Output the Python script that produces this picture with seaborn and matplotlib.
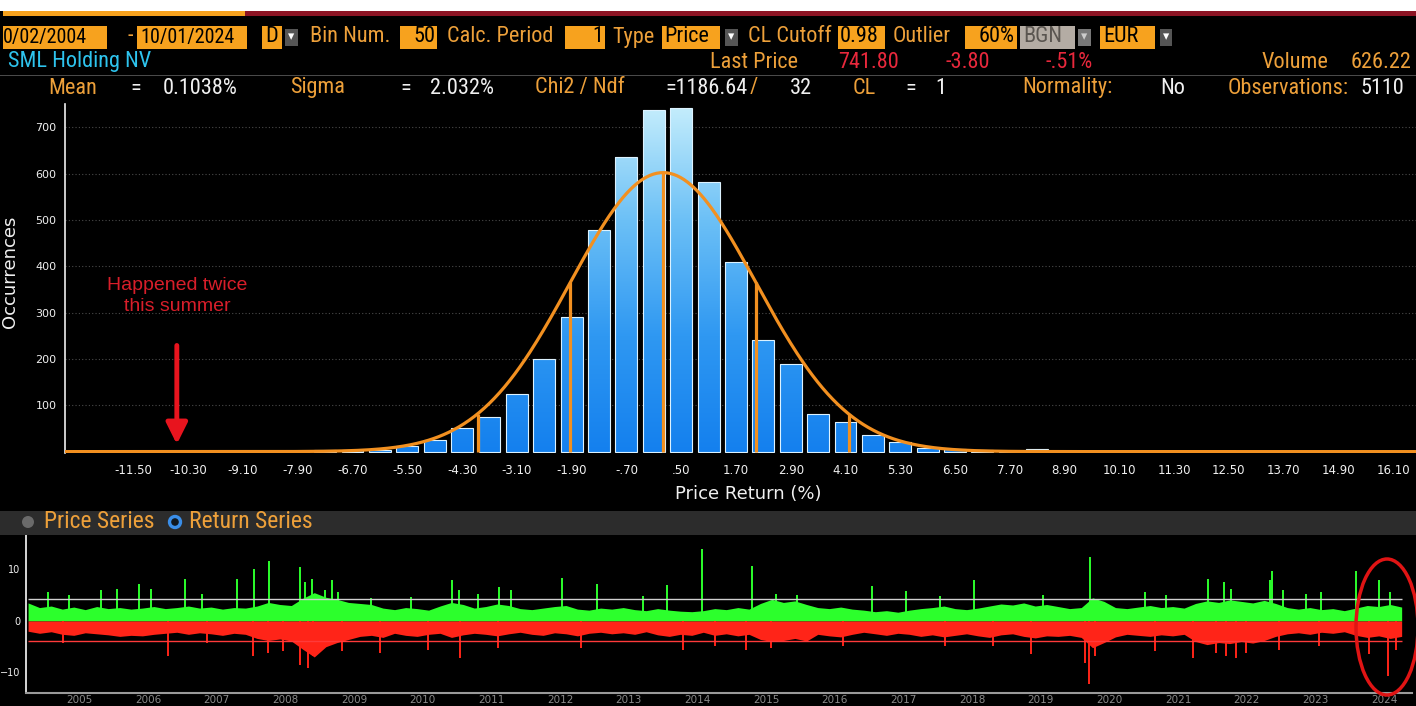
import numpy as np
import pandas as pd
import matplotlib
matplotlib.use('Agg')
import matplotlib.pyplot as plt
from matplotlib import font_manager
from matplotlib.colors import LinearSegmentedColormap
from matplotlib.patches import Rectangle, Ellipse
import seaborn as sns

W, H = 1416, 706

# histogram of daily price returns (bin centre in %, occurrences)
bin_centers = [-10.3, -9.7, -9.1, -8.5, -7.9, -7.3, -6.7, -6.1, -5.5, -4.9, -4.3,
               -3.7, -3.1, -2.5, -1.9, -1.3, -0.7, -0.1, 0.5, 1.1, 1.7, 2.3, 2.9,
               3.5, 4.1, 4.7, 5.3, 5.9, 6.5, 7.1, 7.7, 8.3]
counts = [2, 0, 0, 0, 1, 3, 4, 3, 13, 24, 51,
          75, 124, 199, 291, 478, 635, 737, 742, 581, 410, 240, 190,
          81, 63, 35, 21, 8, 6, 3, 2, 5]
mean_ret = 0.1038
sigma_ret = 2.032
n_obs = 5110
tick_vals = [-11.5, -10.3, -9.1, -7.9, -6.7, -5.5, -4.3, -3.1, -1.9, -0.7, 0.5, 1.7,
             2.9, 4.1, 5.3, 6.5, 7.7, 8.9, 10.1, 11.3, 12.5, 13.7, 14.9, 16.1]

# return series: bi-monthly envelope of the daily bars
env_dates = pd.date_range('2004-10-01', '2024-10-01', freq='2MS')
env_up = [3.5, 2.6, 2.9, 2.3, 2.7, 2.2, 2.8, 2.4, 2.6, 2.3, 2.5, 2.8, 2.4, 2.6, 2.9,
          2.5, 2.7, 2.3, 2.6, 2.5, 2.9, 3.6, 3.2, 3.0, 4.4, 5.5, 4.6, 4.2, 3.6, 3.4,
          3.2, 2.5, 2.2, 2.6, 2.4, 2.1, 2.9, 3.6, 3.2, 2.5, 2.8, 3.3, 3.0, 2.4, 2.2,
          2.5, 2.8, 3.0, 2.3, 2.1, 2.5, 2.3, 2.6, 2.2, 2.0, 2.4, 2.1, 1.9, 1.8, 2.0,
          2.4, 2.2, 2.6, 2.3, 3.4, 4.2, 3.6, 3.9, 3.2, 2.6, 2.4, 2.7, 2.3, 2.1, 1.8,
          2.0, 1.7, 2.1, 2.4, 2.6, 2.9, 2.4, 2.2, 2.5, 2.9, 3.3, 3.1, 3.5, 2.9, 3.2,
          2.8, 2.4, 2.6, 4.5, 3.8, 2.6, 2.4, 2.7, 3.0, 2.6, 2.8, 2.5, 3.4, 3.9, 3.6,
          4.1, 3.8, 3.5, 4.0, 3.4, 2.6, 2.3, 2.6, 2.2, 2.4, 2.0, 2.5, 3.0, 2.8, 3.2,
          2.7]
env_dn = [-2.0, -2.4, -2.1, -2.6, -2.8, -2.3, -2.5, -2.7, -3.0, -2.8, -2.9, -2.6, -2.4,
          -2.2, -2.6, -2.3, -2.5, -2.8, -2.4, -2.6, -3.4, -3.8, -3.5, -3.9, -5.5, -7.0,
          -5.0, -4.2, -3.6, -3.0, -2.8, -3.2, -2.4, -2.8, -3.0, -2.6, -2.4, -3.2, -2.7,
          -2.4, -2.6, -2.9, -2.5, -2.2, -2.6, -2.8, -2.3, -2.5, -2.9, -2.4, -2.2, -2.5,
          -2.3, -2.6, -2.1, -2.7, -3.0, -2.6, -2.8, -2.2, -2.8, -2.5, -2.9, -2.6, -3.6,
          -4.0, -3.8, -3.4, -3.9, -2.6, -2.9, -3.1, -2.6, -2.2, -2.5, -2.8, -2.4, -2.6,
          -3.0, -2.7, -3.1, -2.8, -2.5, -2.9, -3.2, -2.7, -2.5, -3.0, -3.3, -2.9, -3.0,
          -2.8, -3.2, -5.2, -4.2, -3.1, -2.6, -2.8, -3.0, -2.7, -2.9, -2.6, -4.0, -4.6,
          -4.2, -4.4, -4.0, -4.3, -3.8, -3.0, -2.5, -2.3, -2.6, -2.2, -2.4, -2.1, -2.8,
          -3.2, -2.9, -3.4, -3.0]

# single-day spikes sticking out of the envelope
spike_up_dates = ['2005-01-15', '2005-05-05', '2005-10-25', '2006-01-15', '2006-05-15',
                  '2006-07-15', '2007-01-15', '2007-04-12', '2007-10-15', '2008-01-15',
                  '2008-04-05', '2008-09-16', '2008-10-12', '2008-11-18', '2009-01-25',
                  '2009-03-03', '2009-04-08', '2009-10-01', '2010-05-01', '2010-12-05',
                  '2011-01-12', '2011-04-20', '2011-08-08', '2011-10-12', '2012-07-08',
                  '2013-01-15', '2013-09-12', '2014-01-18', '2014-07-24', '2015-04-15',
                  '2015-08-25', '2015-12-10', '2017-01-15', '2017-07-15', '2018-01-12',
                  '2018-07-12', '2019-07-12', '2020-03-20', '2021-01-05', '2021-04-26',
                  '2021-12-05', '2022-03-03', '2022-04-08', '2022-10-30', '2022-11-10',
                  '2023-01-08', '2023-05-12', '2023-07-30', '2024-01-30', '2024-06-02',
                  '2024-07-30']
spike_up = [5.6, 5.0, 6.1, 6.3, 7.2, 6.3, 8.2, 5.3, 8.2, 10.1, 11.6, 10.4, 7.6, 8.2, 6.0,
            7.9, 5.6, 4.4, 4.7, 7.9, 6.1, 5.3, 6.5, 6.1, 8.4, 7.2, 4.8, 6.9, 14.0, 10.6,
            5.3, 5.0, 6.7, 5.8, 4.8, 8.0, 5.0, 12.5, 5.6, 5.0, 8.2, 7.6, 6.3, 7.9, 9.7,
            6.0, 5.3, 5.6, 9.7, 7.9, 5.6]
spike_dn_dates = ['2005-04-05', '2006-10-16', '2007-05-08', '2008-01-11', '2008-04-01',
                  '2008-06-20', '2008-09-18', '2008-10-30', '2008-11-25', '2009-04-26',
                  '2009-11-14', '2010-07-30', '2011-01-15', '2011-08-05', '2012-10-20',
                  '2014-04-15', '2014-10-01', '2015-03-18', '2015-07-26', '2016-08-15',
                  '2018-02-06', '2018-10-20', '2019-05-12', '2020-02-20', '2020-03-12',
                  '2020-04-12', '2021-02-25', '2021-09-16', '2022-01-18', '2022-03-14',
                  '2022-05-05', '2022-06-28', '2022-12-20', '2023-07-22', '2024-04-12',
                  '2024-07-18', '2024-09-01']
spike_dn = [-4.3, -6.9, -4.3, -6.9, -6.2, -5.9, -8.5, -9.1, -6.9, -5.9, -6.2, -5.6, -7.2,
            -5.3, -5.3, -5.6, -4.9, -5.6, -5.3, -4.9, -4.9, -4.9, -6.5, -8.1, -12.3, -6.9,
            -5.9, -7.2, -6.3, -6.9, -7.2, -6.3, -5.6, -4.9, -6.5, -10.6, -5.6]
year_ticks = list(range(2005, 2025))

ORANGE = '#f29020'
AMBER = '#f7a21e'
LABEL = '#eda03a'
WHITE = '#f0f0f0'
GREEN = '#2cff2c'
RED = '#ff2418'

sns.set_theme(style='dark', rc={'axes.facecolor': 'black', 'figure.facecolor': 'black'})
names = {f.name for f in font_manager.fontManager.ttflist}
narrow = next((n for n in ['Liberation Sans Narrow', 'Roboto Condensed'] if n in names), None)
hfont = narrow if narrow else 'DejaVu Sans'
hscale = 1.0 if narrow else 0.78
plt.rcParams['font.family'] = ['DejaVu Sans']

fig = plt.figure(figsize=(W / 100, H / 100), dpi=100)


def fx(x):
    return x / W


def fy(y):
    return 1 - y / H


def box(x0, x1, y0, y1, color, z=1):
    fig.patches.append(Rectangle((fx(x0), fy(y1)), fx(x1) - fx(x0), fy(y0) - fy(y1),
                                 transform=fig.transFigure, facecolor=color,
                                 edgecolor='none', zorder=z))


def label(x, y, s, color, size=16, ha='left', family=None):
    fig.text(fx(x), fy(y), s, color=color, fontsize=size * hscale, ha=ha, va='center',
             family=family or hfont)


# --- top strip / toolbar
box(0, W, 0, 11, 'white')
box(3, 245, 11, 16, AMBER)
box(245, W, 11, 16, '#8c1424')
box(3, 107, 26, 49, AMBER)
box(137, 247, 26, 49, AMBER)
box(262, 282, 26, 49, AMBER)
box(285, 298, 29, 46, '#555555')
box(400, 437, 26, 49, AMBER)
box(565, 605, 26, 49, AMBER)
box(662, 720, 26, 49, AMBER)
box(725, 738, 29, 46, '#555555')
box(838, 885, 26, 49, AMBER)
box(965, 1017, 26, 49, AMBER)
box(1020, 1075, 26, 49, '#b4aca4')
box(1078, 1091, 29, 46, '#777777')
box(1100, 1155, 26, 49, AMBER)
box(1160, 1172, 29, 46, '#555555')

label(3, 37, '0/02/2004', 'black', size=14.5)
label(127, 37, '-', LABEL)
label(140, 37, '10/01/2024', 'black', size=14.5)
label(265, 37, 'D', 'black')
label(291.5, 37, '\u25be', 'white', size=9, ha='center', family='DejaVu Sans')
label(310, 37, 'Bin Num.', LABEL)
label(435, 37, '50', 'black', ha='right')
label(447, 37, 'Calc. Period', LABEL)
label(603, 37, '1', 'black', ha='right')
label(612, 37, 'Type', LABEL)
label(664, 37, 'Price', 'black')
label(731.5, 37, '\u25be', 'white', size=9, ha='center', family='DejaVu Sans')
label(748, 37, 'CL Cutoff', LABEL)
label(840, 37, '0.98', 'black')
label(893, 37, 'Outlier', LABEL)
label(1015, 37, '60%', 'black', ha='right')
label(1023, 37, 'BGN', '#5a5550')
label(1084.5, 37, '\u25be', '#cccccc', size=9, ha='center', family='DejaVu Sans')
label(1103, 37, 'EUR', 'black')
label(1166, 37, '\u25be', 'white', size=9, ha='center', family='DejaVu Sans')

# --- security line
label(8, 62, 'SML Holding NV', '#2ec4ee')
label(710, 62, 'Last Price', LABEL)
label(838, 62, '741.80', '#e8283c')
label(945, 62, '-3.80', '#e8283c')
label(1045, 62, '-.51%', '#e8283c')
label(1262, 62, 'Volume', LABEL)
label(1412, 62, '626.22', LABEL, ha='right')
box(0, W, 74.5, 75.5, '#4a4a4a')

# --- fit statistics line
label(48, 88, 'Mean', LABEL)
label(130, 88, '=', WHITE)
label(163, 88, '0.1038%', WHITE)
label(290, 88, 'Sigma', LABEL)
label(400, 88, '=', WHITE)
label(430, 88, '2.032%', WHITE)
label(535, 88, 'Chi2 / Ndf', LABEL)
label(665, 88, '=1186.64', WHITE)
label(750, 88, '/', LABEL)
label(790, 88, '32', WHITE)
label(853, 88, 'CL', LABEL)
label(905, 88, '=', WHITE)
label(935, 88, '1', WHITE)
label(1022, 88, 'Normality:', LABEL)
label(1160, 88, 'No', WHITE)
label(1228, 88, 'Observations:', LABEL)
label(1360, 88, '5110', WHITE)

# --- histogram
bin_w = bin_centers[1] - bin_centers[0]
edges = [c - bin_w / 2 for c in bin_centers] + [bin_centers[-1] + bin_w / 2]
ytop = 750
ax = fig.add_axes([fx(65), fy(453), fx(W) - fx(65), fy(104) - fy(453)])
sns.histplot(x=bin_centers, weights=counts, bins=edges, shrink=0.8, ax=ax,
             color='#1a86f0', edgecolor='#dcf2ff', linewidth=0.8, alpha=1)

bar_cmap = LinearSegmentedColormap.from_list(
    'bars', ['#1480ee', '#2f98f2', '#6cc0f6', '#c6eefc'])
grad = np.linspace(0, 1, 256).reshape(-1, 1)
for p in list(ax.patches):
    if p.get_height() <= 0:
        continue
    x0 = p.get_x()
    im = ax.imshow(grad, cmap=bar_cmap, origin='lower', aspect='auto',
                   extent=[x0, x0 + p.get_width(), 0, ytop], zorder=2)
    im.set_clip_path(p)
    p.set_facecolor('none')
    p.set_zorder(3)

xs = np.linspace(-13.0, 16.6, 800)
fit = n_obs * bin_w * np.exp(-0.5 * ((xs - mean_ret) / sigma_ret) ** 2) / (sigma_ret * np.sqrt(2 * np.pi))
sns.lineplot(x=xs, y=fit, ax=ax, color=ORANGE, linewidth=2.3, zorder=5)
sig_x = [mean_ret + k * sigma_ret for k in (-2, -1, 0, 1, 2)]
sig_y = [n_obs * bin_w * np.exp(-0.5 * ((v - mean_ret) / sigma_ret) ** 2) / (sigma_ret * np.sqrt(2 * np.pi))
         for v in sig_x]
ax.vlines(sig_x, 0, sig_y, color=ORANGE, linewidth=2.3, zorder=5)

ax.set_xlim(-13.0, 16.6)
ax.set_ylim(-3, ytop)
ax.set_xticks(tick_vals)
ax.set_xticklabels([f'{v:.2f}'.replace('0.', '.', 1) if abs(v) < 1 else f'{v:.2f}' for v in tick_vals])
ax.set_yticks([100, 200, 300, 400, 500, 600, 700])
ax.tick_params(axis='x', colors=WHITE, labelsize=8.5, length=5, width=2, pad=3)
ax.tick_params(axis='y', colors=WHITE, labelsize=8, length=4, width=1.5, pad=2)
ax.grid(axis='y', color='#4a4a4a', linestyle=(0, (1, 2)), linewidth=0.8)
ax.grid(axis='x', visible=False)
ax.set_xlabel('')
ax.set_ylabel('')
for s in ['top', 'right', 'bottom']:
    ax.spines[s].set_visible(False)
ax.spines['left'].set_color(WHITE)
ax.spines['left'].set_linewidth(1.2)

ax.annotate('', xy=(-10.55, 10), xytext=(-10.55, 235),
            arrowprops=dict(arrowstyle='-|>', color='#e8141e', lw=3.5, mutation_scale=32))
ax.text(-10.55, 335, 'Happened twice\nthis summer', color='#d81e2a', fontsize=14,
        ha='center', va='center', family='Liberation Sans', linespacing=1.3)

fig.text(fx(748), fy(494), 'Price Return (%)', color=WHITE, fontsize=13, ha='center', va='center')
fig.text(fx(10), fy(272), 'Occurrences', color=WHITE, fontsize=13, ha='center', va='center',
         rotation=90)

# --- lower panel header
box(0, W, 511, 535, '#2c2c2c')
fig.patches.append(Ellipse((fx(28), fy(522)), 12 / W, 12 / H, transform=fig.transFigure,
                           facecolor='#6a6a6a', edgecolor='none', zorder=2))
fig.patches.append(Ellipse((fx(175), fy(522)), 11 / W, 11 / H, transform=fig.transFigure,
                           facecolor='#101820', edgecolor='#3a8ee8', linewidth=2.4, zorder=2))
label(44, 522, 'Price Series', LABEL, size=17)
label(189, 522, 'Return Series', LABEL, size=17)

# --- return series
ax2 = fig.add_axes([fx(26), fy(693), fx(1412) - fx(26), fy(535) - fy(693)])
ax2.set_facecolor('black')
ax2.fill_between(env_dates, 0, env_up, color=GREEN, linewidth=0)
ax2.fill_between(env_dates, env_dn, 0, color=RED, linewidth=0)
ax2.vlines(pd.to_datetime(spike_up_dates), 0, spike_up, color=GREEN, linewidth=1.4)
ax2.vlines(pd.to_datetime(spike_dn_dates), spike_dn, 0, color=RED, linewidth=1.4)
ax2.hlines(mean_ret + 2 * sigma_ret, env_dates[0], env_dates[-1], color='#cfcfcf', linewidth=1)
ax2.hlines(mean_ret - 2 * sigma_ret, env_dates[0], env_dates[-1], color='#ff3a3a', linewidth=1)
ax2.set_xlim(pd.Timestamp('2004-09-20'), pd.Timestamp('2024-11-25'))
ax2.set_ylim(-14.0, 16.7)
ax2.set_yticks([-10, 0, 10])
ax2.set_yticks([-5, 5, 15], minor=True)
ax2.set_xticks([pd.Timestamp(f'{y}-07-01') for y in year_ticks])
ax2.set_xticklabels([str(y) for y in year_ticks])
ax2.tick_params(axis='x', colors='#8a8a8a', labelsize=7.5, length=0, pad=1.5)
ax2.tick_params(axis='y', which='both', colors=WHITE, labelsize=7, length=3, width=1.5, pad=1)
ax2.grid(False)
for s in ['top', 'right']:
    ax2.spines[s].set_visible(False)
ax2.spines['left'].set_color(WHITE)
ax2.spines['bottom'].set_color('#9a9a9a')
ax2.spines['bottom'].set_linewidth(1.5)

fig.patches.append(Ellipse((fx(1387), fy(627)), 62 / W, 136 / H, transform=fig.transFigure,
                           fill=False, edgecolor='#e01414', linewidth=2.5, zorder=10))

fig.savefig('out.png', dpi=100, facecolor='black')
